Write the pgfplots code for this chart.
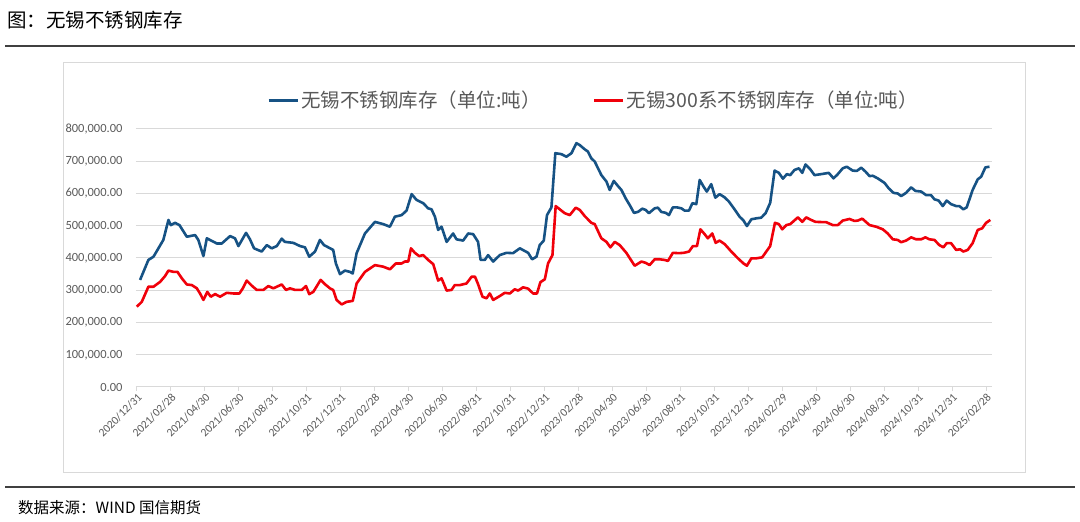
\documentclass[border=0pt]{standalone}
\usepackage{fontspec}
\usepackage{pgfplots}
\pgfplotsset{compat=1.18}
\setmainfont{Carlito}
\newfontfamily\cjk{Noto Sans CJK SC}
\definecolor{bl}{RGB}{22,82,132}
\definecolor{rd}{RGB}{240,0,10}
\definecolor{tx}{RGB}{89,89,89}
\definecolor{gr}{RGB}{217,217,217}

\pgfplotstableread{
x y
0.19 332000
0.68 394000
0.98 404000
1.56 456000
1.86 518000
2.00 502000
2.25 509000
2.51 502000
2.94 466000
3.43 471000
3.62 456000
3.92 406000
4.12 461000
4.71 445000
5.00 445000
5.49 468000
5.78 461000
5.98 437000
6.43 478000
6.66 458000
6.90 430000
7.35 420000
7.65 440000
7.94 430000
8.24 437000
8.53 460000
8.72 450000
9.21 447000
9.61 437000
9.90 433000
10.15 404000
10.49 420000
10.78 456000
11.02 440000
11.56 425000
11.72 383000
11.96 350000
12.25 361000
12.55 357000
12.71 352000
12.94 415000
13.43 476000
14.02 512000
14.51 505000
14.90 497000
15.19 528000
15.59 533000
15.88 547000
16.18 598000
16.47 580000
16.86 570000
17.15 554000
17.35 551000
17.55 528000
17.74 487000
17.94 497000
18.24 450000
18.62 476000
18.82 458000
19.21 454000
19.51 476000
19.80 474000
20.09 450000
20.24 394000
20.49 394000
20.68 409000
20.98 389000
21.37 409000
21.76 416000
22.15 415000
22.55 430000
23.04 416000
23.27 396000
23.53 404000
23.72 440000
23.96 454000
24.15 533000
24.41 557000
24.64 725000
25.00 722000
25.29 714000
25.59 725000
25.88 756000
26.08 750000
26.37 737000
26.56 730000
26.76 709000
26.96 699000
27.35 657000
27.65 637000
27.84 611000
28.08 639000
28.33 623000
28.53 611000
28.78 585000
29.02 564000
29.27 540000
29.51 543000
29.76 553000
29.96 549000
30.15 539000
30.49 554000
30.68 556000
30.88 543000
31.14 540000
31.33 533000
31.56 557000
31.80 557000
32.06 554000
32.25 547000
32.51 547000
32.71 570000
32.94 567000
33.14 642000
33.37 621000
33.56 606000
33.82 629000
34.06 587000
34.31 598000
34.61 588000
34.86 575000
35.19 551000
35.49 528000
35.72 516000
35.92 499000
36.18 520000
36.47 523000
36.76 525000
37.02 539000
37.29 571000
37.55 671000
37.80 664000
38.04 646000
38.27 660000
38.47 657000
38.72 673000
38.98 678000
39.18 664000
39.37 690000
39.65 675000
39.90 657000
40.29 660000
40.74 664000
41.02 647000
41.27 660000
41.56 678000
41.80 683000
42.15 671000
42.39 670000
42.65 680000
42.90 668000
43.14 654000
43.33 655000
43.62 647000
44.02 633000
44.27 616000
44.55 602000
44.80 600000
45.00 592000
45.29 602000
45.59 619000
45.84 608000
46.18 606000
46.47 595000
46.76 595000
46.96 582000
47.21 578000
47.45 561000
47.68 578000
47.94 567000
48.24 561000
48.43 561000
48.66 551000
48.86 557000
49.21 611000
49.51 644000
49.71 652000
49.96 681000
50.20 683000
}\blue

\pgfplotstableread{
x y
0.00 249000
0.29 264000
0.68 311000
0.98 311000
1.37 326000
1.66 344000
1.86 361000
2.15 357000
2.39 357000
2.65 337000
2.94 318000
3.24 316000
3.53 306000
3.72 290000
3.92 270000
4.15 295000
4.35 280000
4.61 288000
4.90 280000
5.29 292000
5.68 290000
6.04 290000
6.24 306000
6.47 330000
6.77 314000
7.06 301000
7.45 301000
7.74 313000
8.04 306000
8.53 318000
8.78 301000
9.02 306000
9.31 301000
9.71 301000
9.96 313000
10.15 288000
10.39 295000
10.82 332000
11.07 319000
11.37 306000
11.56 301000
11.76 270000
12.06 256000
12.35 264000
12.71 267000
12.94 321000
13.43 357000
14.02 378000
14.51 373000
14.90 365000
15.25 383000
15.59 383000
15.78 389000
15.98 389000
16.14 430000
16.37 416000
16.62 406000
16.86 409000
17.15 394000
17.45 381000
17.74 330000
17.94 337000
18.24 299000
18.53 301000
18.72 316000
19.02 316000
19.41 321000
19.71 342000
19.91 342000
20.09 319000
20.35 280000
20.59 275000
20.78 290000
20.98 270000
21.37 282000
21.66 292000
21.96 290000
22.25 303000
22.45 299000
22.74 309000
23.04 305000
23.33 290000
23.56 290000
23.76 325000
24.02 334000
24.21 383000
24.47 409000
24.66 561000
24.90 551000
25.19 539000
25.49 533000
25.84 556000
26.08 549000
26.37 530000
26.76 509000
26.96 505000
27.35 461000
27.65 450000
27.88 433000
28.14 450000
28.43 440000
28.82 416000
29.31 376000
29.71 389000
29.96 385000
30.19 378000
30.49 396000
30.78 396000
31.07 394000
31.27 391000
31.56 416000
31.92 415000
32.20 416000
32.51 420000
32.74 437000
32.98 437000
33.18 489000
33.43 474000
33.62 461000
33.88 476000
34.08 447000
34.31 454000
34.61 443000
35.00 420000
35.39 399000
35.72 383000
35.92 376000
36.18 399000
36.47 399000
36.82 402000
37.06 420000
37.29 437000
37.57 509000
37.80 505000
38.00 489000
38.24 502000
38.47 505000
38.92 526000
39.18 512000
39.41 526000
39.70 518000
39.96 512000
40.59 511000
40.98 502000
41.27 502000
41.56 516000
41.96 521000
42.25 515000
42.45 516000
42.71 522000
43.14 502000
43.53 497000
43.92 489000
44.21 476000
44.51 458000
44.80 456000
45.00 449000
45.29 454000
45.59 464000
45.88 458000
46.18 458000
46.43 464000
46.66 458000
46.96 456000
47.25 440000
47.49 433000
47.68 446000
47.94 446000
48.24 425000
48.47 427000
48.66 420000
48.92 425000
49.21 446000
49.51 487000
49.77 492000
50.00 509000
50.25 518000
}\red

\begin{document}
\begin{tikzpicture}[x=1pt,y=1pt]
\path[use as bounding box] (0,0) rectangle (1080,522);
\node[anchor=west, inner sep=0] at (7,502) {\cjk\fontsize{19.5}{22}\selectfont 图：无锡不锈钢库存};
\draw[line width=1.5pt, black!75] (5,476) -- (1075,476);
\draw[gr, line width=0.8pt] (63,50) rectangle (1025,460);
\draw[line width=1.5pt, black!75] (5,35) -- (1075,35);
\node[anchor=west, inner sep=0] at (18,14) {\cjk\fontsize{15.5}{17}\selectfont 数据来源：WIND 国信期货};
\begin{axis}[
  at={(136pt,135pt)}, anchor=south west,
  scale only axis, width=856pt, height=258pt,
  xmin=-0.05, xmax=50.35, ymin=0, ymax=800000,
  xtick={0,2,...,50},
  xticklabels={2020/12/31,2021/02/28,2021/04/30,2021/06/30,2021/08/31,2021/10/31,2021/12/31,2022/02/28,2022/04/30,2022/06/30,2022/08/31,2022/10/31,2022/12/31,2023/02/28,2023/04/30,2023/06/30,2023/08/31,2023/10/31,2023/12/31,2024/02/29,2024/04/30,2024/06/30,2024/08/31,2024/10/31,2024/12/31,2025/02/28},
  ytick={0,100000,...,800000},
  scaled y ticks=false,
  /pgf/number format/assume math mode=true,
  yticklabel style={/pgf/number format/fixed, /pgf/number format/fixed zerofill, /pgf/number format/precision=2, /pgf/number format/1000 sep={,}, font=\fontsize{12.5}{14}\selectfont, text=tx, xshift=-6pt},
  xticklabel style={rotate=45, anchor=north east, font=\fontsize{11.5}{13}\selectfont, text=tx, inner sep=1pt},
  axis x line*=bottom, axis y line*=left,
  x axis line style={gr, line width=1pt, -},
  y axis line style={draw=none},
  ytick style={draw=none},
  xtick style={gr, line width=0.8pt},
  tick align=outside, major tick length=4pt,
  ymajorgrids, major grid style={gr, line width=1pt},
  legend columns=2,
  legend style={at={(0.153,1.112)}, anchor=west, draw=none, fill=none, font=\cjk\fontsize{19.5}{22}\selectfont, text=tx, inner sep=0pt},
  legend image code/.code={\draw[#1, line width=3pt] (0pt,0pt) -- (29pt,0pt);},
  /tikz/every even column/.append style={column sep=50pt},
  legend cell align=left,
]
\addplot[bl, line width=2.6pt, line join=round] table[x=x,y=y] {\blue};
\addlegendentry{无锡不锈钢库存（单位:吨）}
\addplot[rd, line width=2.6pt, line join=round] table[x=x,y=y] {\red};
\addlegendentry{无锡300系不锈钢库存（单位:吨）}
\end{axis}
\end{tikzpicture}
\end{document}
